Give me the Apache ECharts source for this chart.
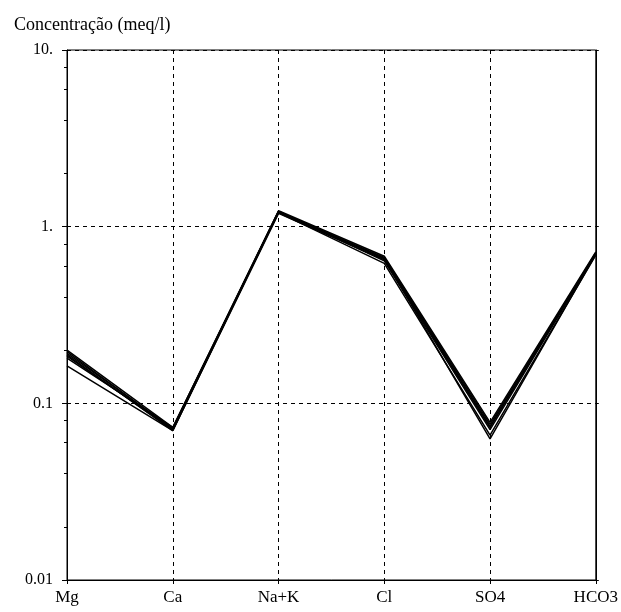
<!DOCTYPE html>
<html>
<head>
<meta charset="utf-8">
<script src="https://cdn.jsdelivr.net/npm/echarts@6/dist/echarts.min.js"></script>
<style>
html,body{margin:0;padding:0;background:#fff;}
#chart{width:621px;height:612px;}
</style>
</head>
<body>
<div id="chart"></div>
<script>
const categories = ['Mg', 'Ca', 'Na+K', 'Cl', 'SO4', 'HCO3'];
const yTickValues = [0.01, 0.1, 1, 10];
const yTickLabels = ['0.01', '0.1', '1.', '10.'];
const yMinorTicks = [0.02, 0.04, 0.06, 0.08, 0.2, 0.4, 0.6, 0.8, 2, 4, 6, 8];
const titleText = 'Concentração (meq/l)';

const sample1 = [0.200, 0.073, 1.23, 0.68, 0.078, 0.72];
const sample2 = [0.196, 0.071, 1.21, 0.67, 0.076, 0.71];
const sample3 = [0.192, 0.072, 1.22, 0.66, 0.074, 0.70];
const sample4 = [0.188, 0.070, 1.19, 0.65, 0.073, 0.71];
const sample5 = [0.185, 0.071, 1.22, 0.64, 0.071, 0.70];
const sample6 = [0.180, 0.073, 1.20, 0.62, 0.066, 0.69];
const sample7 = [0.163, 0.070, 1.21, 0.66, 0.063, 0.70];
const samples = [sample1, sample2, sample3, sample4, sample5, sample6, sample7];

const FONT = "'Liberation Serif', 'Times New Roman', serif";

const chart = echarts.init(document.getElementById('chart'), null, {renderer: 'canvas'});
chart.setOption({
  animation: false,
  backgroundColor: '#fff',
  title: {
    text: titleText,
    left: 9,
    top: 11,
    textStyle: {fontFamily: FONT, fontSize: 18, fontWeight: 'normal', color: '#000'}
  },
  grid: {
    left: 67, right: 23, top: 50, bottom: 32,
    show: true, borderColor: '#000', borderWidth: 1, backgroundColor: 'transparent'
  },
  xAxis: {
    type: 'category',
    data: categories,
    boundaryGap: false,
    axisLine: {lineStyle: {color: '#000', width: 1}},
    axisTick: {show: true, inside: false, length: 4, lineStyle: {color: '#000'}},
    axisLabel: {fontFamily: FONT, fontSize: 17, color: '#000', margin: 9},
    splitLine: {show: true, lineStyle: {color: '#000', type: [4, 4], width: 1}}
  },
  yAxis: [
    {
      type: 'log',
      logBase: 10,
      min: 0.01,
      max: 10,
      position: 'left',
      axisLine: {show: true, lineStyle: {color: '#000', width: 1}},
      axisTick: {show: true, inside: false, length: 5, customValues: yTickValues, lineStyle: {color: '#000'}},
      axisLabel: {
        fontFamily: FONT, fontSize: 16, color: '#000', margin: 14,
        customValues: yTickValues,
        formatter: function (v) {
          for (let i = 0; i < yTickValues.length; i++) {
            if (Math.abs(Math.log10(v) - Math.log10(yTickValues[i])) < 1e-6) return yTickLabels[i];
          }
          return '';
        }
      },
      splitLine: {show: true, lineStyle: {color: '#000', type: [4, 4], width: 1}}
    },
    {
      type: 'log',
      logBase: 10,
      min: 0.01,
      max: 10,
      position: 'left',
      axisLine: {show: false},
      axisTick: {show: true, inside: false, length: 3, customValues: yMinorTicks, lineStyle: {color: '#000'}},
      axisLabel: {show: false},
      splitLine: {show: false}
    },
    {
      type: 'log',
      logBase: 10,
      min: 0.01,
      max: 10,
      position: 'right',
      axisLine: {show: true, lineStyle: {color: '#000', width: 1}},
      axisTick: {show: true, inside: false, length: 3, customValues: yTickValues, lineStyle: {color: '#000'}},
      axisLabel: {show: false},
      splitLine: {show: false}
    }
  ],
  series: samples.map(function (s, i) {
    return {
      type: 'line',
      name: 'Amostra ' + (i + 1),
      data: s,
      yAxisIndex: 0,
      symbol: 'none',
      lineStyle: {color: '#000', width: 1.5},
      z: 5
    };
  })
});
</script>
</body>
</html>
